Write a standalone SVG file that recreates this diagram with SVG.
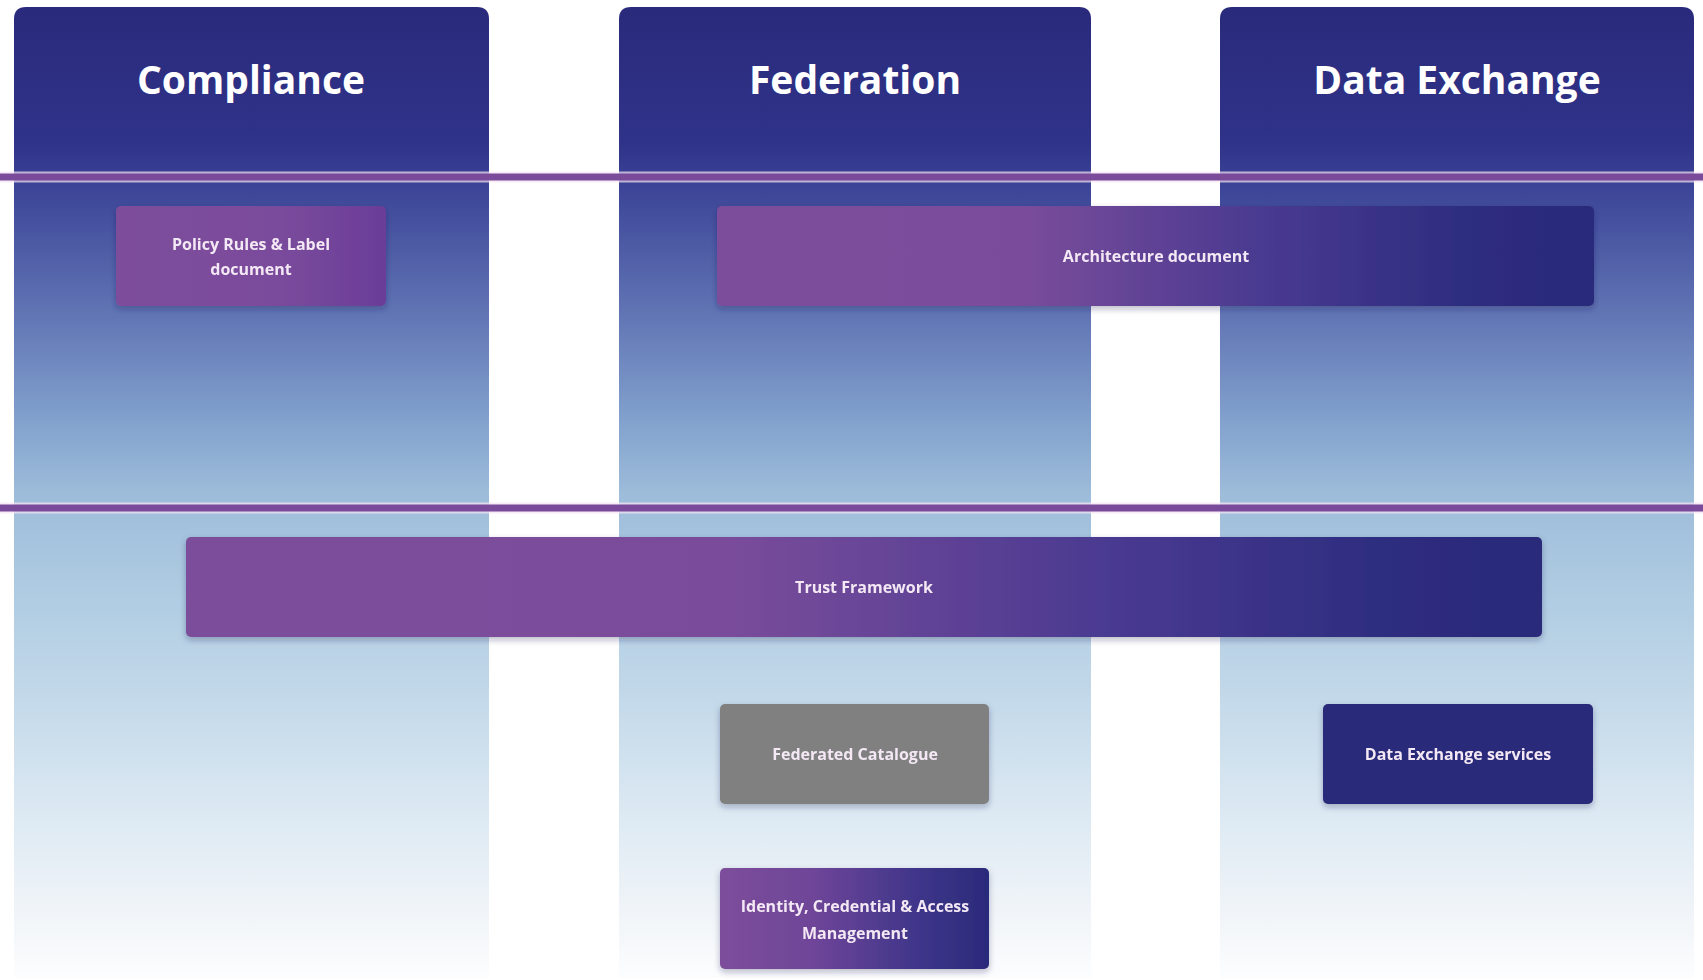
<svg xmlns="http://www.w3.org/2000/svg" width="1703" height="980" viewBox="0 0 1703 980">
  <defs>
    <linearGradient id="colGrad" x1="0" y1="0" x2="0" y2="1">
      <stop offset="0" stop-color="#2A2A7C"/>
      <stop offset="0.14" stop-color="#2F3389"/>
      <stop offset="0.19" stop-color="#3D4698"/>
      <stop offset="0.32" stop-color="#6276B5"/>
      <stop offset="0.42" stop-color="#809FCC"/>
      <stop offset="0.50" stop-color="#9DBCDA"/>
      <stop offset="0.60" stop-color="#AECBE2"/>
      <stop offset="0.72" stop-color="#C5DAEA"/>
      <stop offset="0.83" stop-color="#DCE9F3"/>
      <stop offset="0.93" stop-color="#F0F4F8"/>
      <stop offset="1" stop-color="#FCFDFE"/>
    </linearGradient>
    <linearGradient id="gradArch" x1="0" y1="0" x2="1" y2="0">
      <stop offset="0" stop-color="#7C4E9A"/>
      <stop offset="0.35" stop-color="#7A4C9B"/>
      <stop offset="0.62" stop-color="#493A90"/>
      <stop offset="0.85" stop-color="#2E2D80"/>
      <stop offset="1" stop-color="#2B2A7A"/>
    </linearGradient>
    <linearGradient id="gradTrust" x1="0" y1="0" x2="1" y2="0">
      <stop offset="0" stop-color="#7C4E9A"/>
      <stop offset="0.4" stop-color="#7A4C9B"/>
      <stop offset="0.68" stop-color="#4A3A91"/>
      <stop offset="0.88" stop-color="#2E2D80"/>
      <stop offset="1" stop-color="#2B2A7A"/>
    </linearGradient>
    <linearGradient id="gradPolicy" x1="0" y1="0" x2="1" y2="0">
      <stop offset="0" stop-color="#7D4E9B"/>
      <stop offset="0.6" stop-color="#7A4B9C"/>
      <stop offset="1" stop-color="#6A3D98"/>
    </linearGradient>
    <linearGradient id="gradIdent" x1="0" y1="0" x2="1" y2="0">
      <stop offset="0" stop-color="#7D4E9B"/>
      <stop offset="0.35" stop-color="#6E4598"/>
      <stop offset="0.75" stop-color="#3D3589"/>
      <stop offset="1" stop-color="#2B2A7A"/>
    </linearGradient>
    <filter id="shadow" x="-10%" y="-20%" width="120%" height="150%">
      <feDropShadow dx="0" dy="3" stdDeviation="3" flood-color="#1A1A50" flood-opacity="0.3"/>
    </filter>
  </defs>
  <style>
    .col { fill: url(#colGrad); }
    .title { font-family: "Open Sans", "Liberation Sans", sans-serif; font-weight: 700; font-size: 39px; fill: #FFFFFF; text-anchor: middle; }
    .label { font-family: "Open Sans", "Liberation Sans", sans-serif; font-weight: 700; font-size: 16px; fill: #F3E8F4; text-anchor: middle; }
    .band { stroke: #7A4A9B; stroke-width: 7; }
    .halo { stroke: #F6E6F4; stroke-width: 11; opacity: 0.7; }
  </style>
  <rect width="1703" height="980" fill="#FFFFFF"/>

  <g id="col-compliance">
    <path class="col" d="M14,19 Q14,7 26,7 L477,7 Q489,7 489,19 L489,978 L14,978 Z"/>
    <text class="title" x="251" y="94">Compliance</text>
  </g>
  <g id="col-federation">
    <path class="col" d="M619,19 Q619,7 631,7 L1079,7 Q1091,7 1091,19 L1091,978 L619,978 Z"/>
    <text class="title" x="855" y="94">Federation</text>
  </g>
  <g id="col-dataexchange">
    <path class="col" d="M1220,19 Q1220,7 1232,7 L1682,7 Q1694,7 1694,19 L1694,978 L1220,978 Z"/>
    <text class="title" x="1457" y="94">Data Exchange</text>
  </g>

  <g id="connectors">
    <line class="halo" x1="0" y1="177" x2="1703" y2="177"/>
    <line class="band" x1="0" y1="177" x2="1703" y2="177"/>
    <line class="halo" x1="0" y1="508" x2="1703" y2="508"/>
    <line class="band" x1="0" y1="508" x2="1703" y2="508"/>
  </g>

  <g id="policy-rules" filter="url(#shadow)">
    <rect x="116" y="206" width="270" height="100" rx="5" fill="url(#gradPolicy)"/>
    <text class="label" x="251" y="250">Policy Rules &amp; Label</text>
    <text class="label" x="251" y="275">document</text>
  </g>
  <g id="architecture-document" filter="url(#shadow)">
    <rect x="717" y="206" width="877" height="100" rx="5" fill="url(#gradArch)"/>
    <text class="label" x="1156" y="262">Architecture document</text>
  </g>
  <g id="trust-framework" filter="url(#shadow)">
    <rect x="186" y="537" width="1356" height="100" rx="5" fill="url(#gradTrust)"/>
    <text class="label" x="864" y="593">Trust Framework</text>
  </g>
  <g id="federated-catalogue" filter="url(#shadow)">
    <rect x="720" y="704" width="269" height="100" rx="5" fill="#808080"/>
    <text class="label" x="855" y="760">Federated Catalogue</text>
  </g>
  <g id="data-exchange-services" filter="url(#shadow)">
    <rect x="1323" y="704" width="270" height="100" rx="5" fill="#2B2A7A"/>
    <text class="label" x="1458" y="760">Data Exchange services</text>
  </g>
  <g id="identity-management" filter="url(#shadow)">
    <rect x="720" y="868" width="269" height="101" rx="5" fill="url(#gradIdent)"/>
    <text class="label" x="855" y="912">Identity, Credential &amp; Access</text>
    <text class="label" x="855" y="939">Management</text>
  </g>
</svg>
